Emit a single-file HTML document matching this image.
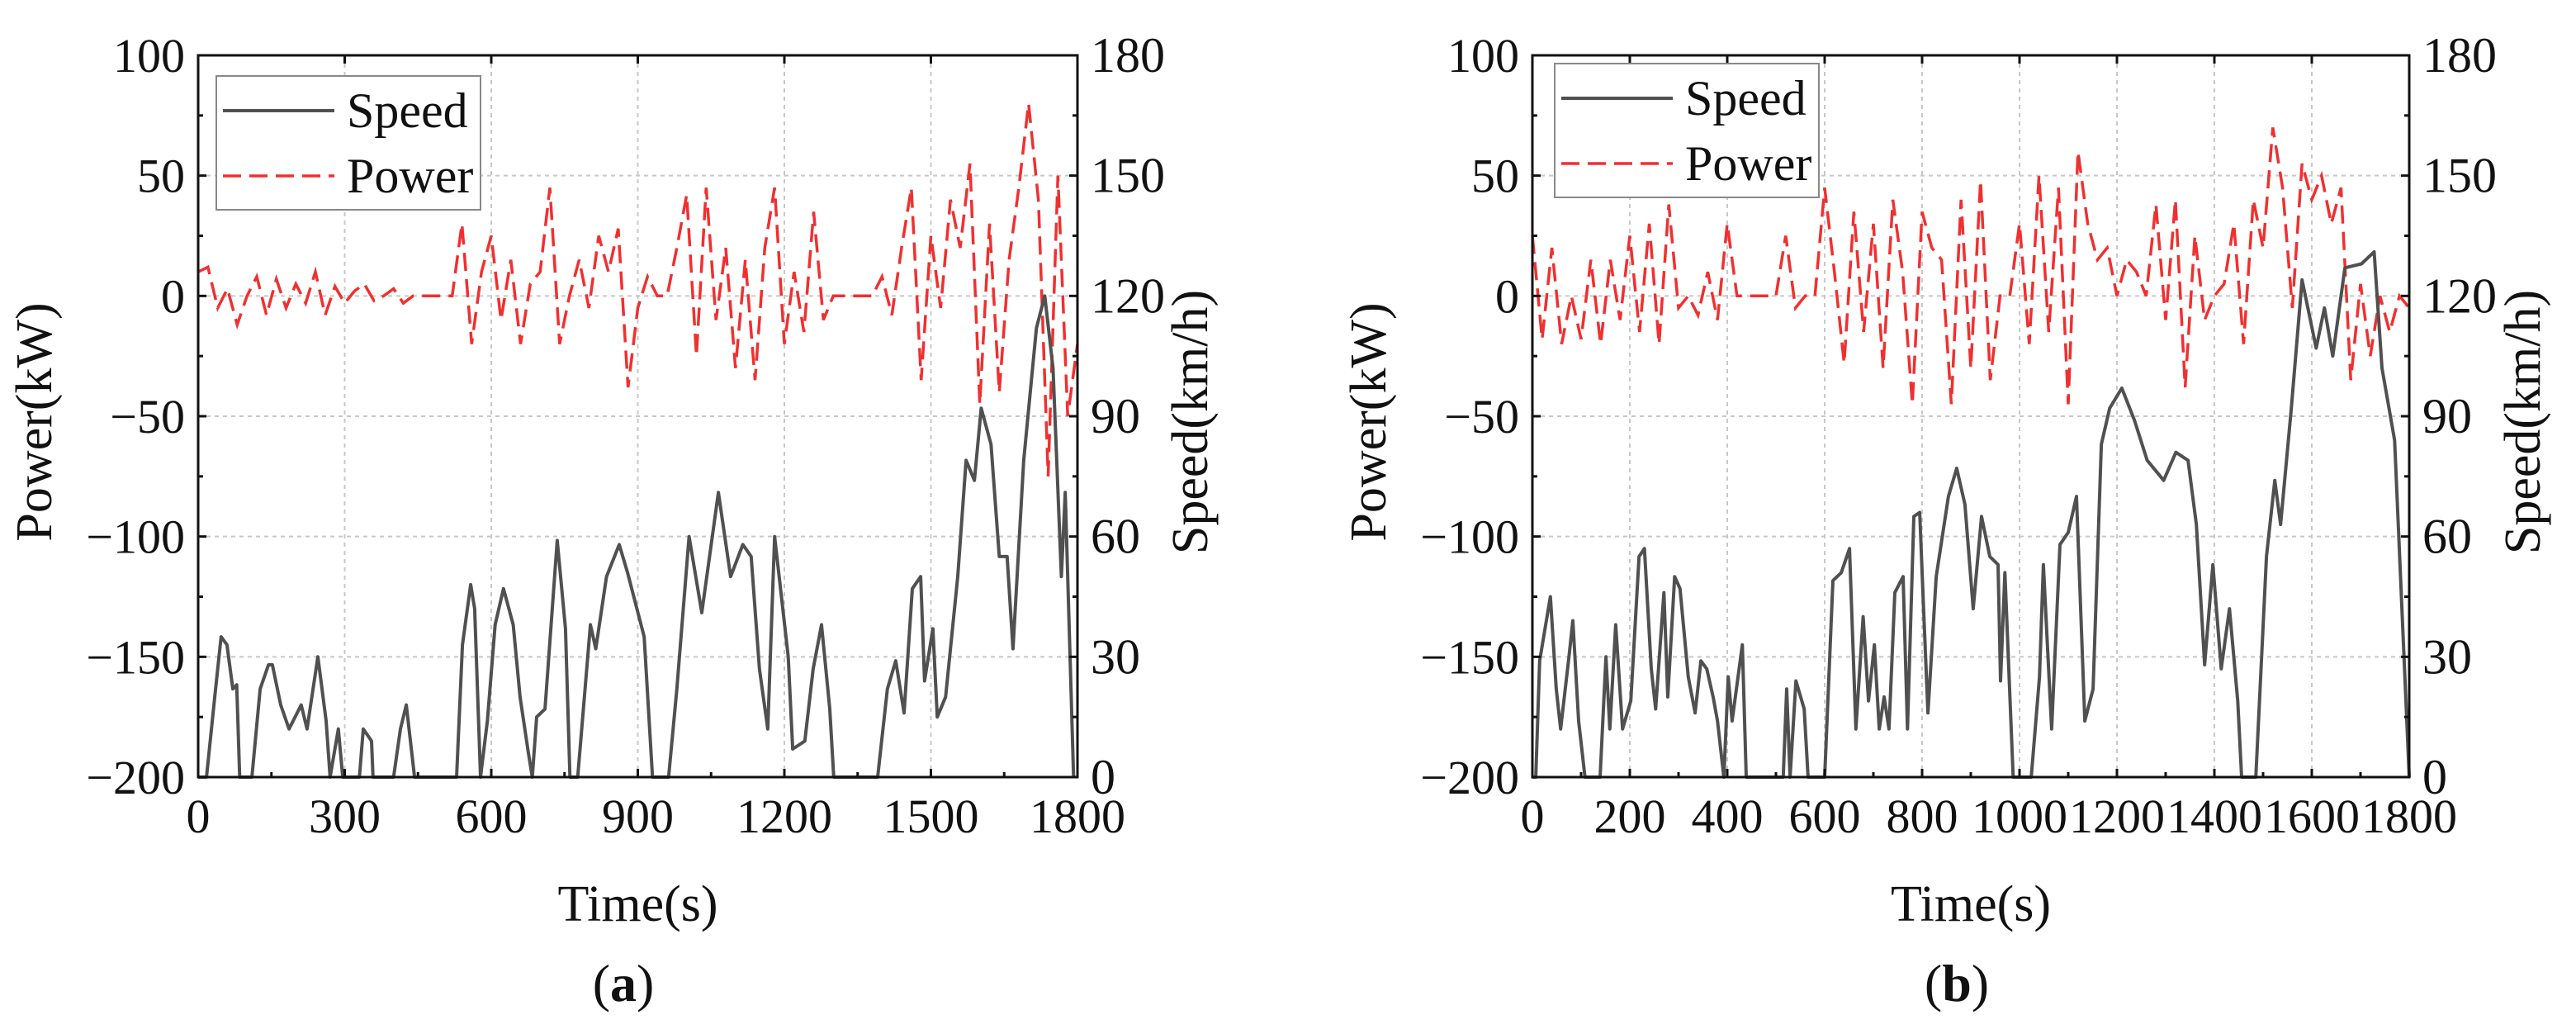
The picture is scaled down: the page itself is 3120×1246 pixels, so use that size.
<!DOCTYPE html>
<html><head><meta charset="utf-8">
<style>
html,body{margin:0;padding:0;background:#fff;}
svg{display:block;}
text{font-family:"Liberation Serif","Times New Roman",serif;fill:#111;}
</style></head>
<body>
<svg id="fig" width="3120" height="1246" viewBox="0 0 3120 1246" font-family="Liberation Serif, serif" xmlns="http://www.w3.org/2000/svg"></svg>
<script>
// ---------- DATA ----------
const xTicksA = [0,300,600,900,1200,1500,1800];
const xTicksB = [0,200,400,600,800,1000,1200,1400,1600,1800];
const powerTicks = [100,50,0,-50,-100,-150,-200];
const speedTicks = [180,150,120,90,60,30,0];

const speedTimeA = [0,17,34,47,59,71,79,85,110,127,144,152,169,186,211,223,245,262,270,287,296,330,338,355,358,400,414,426,443,529,541,558,566,578,592,608,625,645,659,676,684,693,710,735,752,761,777,803,814,836,862,879,913,930,963,980,1005,1031,1065,1090,1115,1132,1149,1166,1180,1208,1217,1242,1259,1276,1293,1301,1391,1411,1428,1445,1462,1479,1487,1504,1513,1530,1555,1572,1589,1603,1623,1640,1656,1668,1690,1716,1733,1750,1767,1775,1792];
const speedA = [0,0,20,35,33,22,23,0,0,22,28,28,18,12,18,12,30,14,0,12,0,0,12,9,0,0,12,18,0,0,33,48,42,0,14,38,47,38,20,6,0,15,17,59,37,0,0,38,32,50,58,51,35,0,0,22,60,41,71,50,58,55,27,12,60,30,7,9,27,38,17,0,0,22,29,16,47,50,24,37,15,20,50,79,74,92,83,55,55,32,79,112,120,102,50,71,0];
const powerA = [10,12,-5,3,-12,0,8,-8,7,-5,5,-3,10,-8,4,-3,2,5,-2,0,3,-3,0,0,0,0,0,30,-20,10,25,-10,15,-20,5,10,45,-20,0,15,-5,25,10,28,-38,-5,8,0,0,20,42,-25,45,-10,20,-30,15,-35,20,45,-20,10,-15,35,-10,0,0,0,0,0,8,-8,20,45,-35,25,-5,40,20,55,-45,30,-40,15,45,80,40,-75,50,-50,-20];

const speedTimeB = [0,7,15,37,49,58,75,83,95,108,139,151,159,171,185,202,219,230,244,253,270,278,292,303,320,334,346,358,371,380,393,402,410,431,439,515,522,529,541,558,566,600,617,634,651,664,679,690,702,712,722,732,744,761,770,783,795,803,812,829,854,871,888,905,922,939,956,961,970,987,1024,1041,1049,1066,1083,1100,1117,1134,1151,1168,1185,1210,1236,1262,1296,1321,1346,1363,1380,1397,1414,1431,1448,1456,1485,1507,1524,1536,1558,1580,1609,1626,1643,1668,1702,1728,1744,1770,1800];
const speedB = [0,0,29,45,22,12,30,39,14,0,0,30,12,38,12,19,55,57,27,17,46,20,50,47,25,16,29,27,20,14,0,25,14,33,0,0,22,0,24,17,0,0,49,51,57,12,40,19,33,12,20,12,46,50,12,65,66,42,16,50,70,77,68,42,65,55,53,24,51,0,0,25,53,12,58,61,70,14,22,83,92,97,89,79,74,81,79,63,28,53,27,42,19,0,0,55,74,63,92,124,107,117,105,127,128,131,102,84,0];
const powerB = [25,-18,20,-20,0,-18,15,-20,15,-10,25,-15,30,-20,38,-5,0,-8,10,-10,30,0,0,0,0,0,25,-5,0,0,45,10,-28,35,-15,30,-30,40,10,-45,35,20,15,-45,40,-30,48,-35,0,0,30,-20,50,-15,45,-45,60,30,15,20,0,15,10,0,38,-10,40,-38,25,-10,0,5,30,-20,40,20,70,45,-5,55,40,50,30,45,-35,5,-25,0,-15,0,-5];
const powerStep = 20;

// ---------- DRAW ----------
const NS = "http://www.w3.org/2000/svg";
const svg = document.getElementById('fig');
function mk(tag, attrs, parent){
  const e = document.createElementNS(NS, tag);
  for (const k in attrs) e.setAttribute(k, attrs[k]);
  (parent||svg).appendChild(e);
  return e;
}

function panel(cfg){
  const g = mk('g', {});
  
  
  const L=cfg.L, R=cfg.R, T=67, B=941;
  const xs = t => L + (t/1800)*(R-L);
  const yp = p => T + (100-p)/300*(B-T);
  const ys = s => T + (180-s)/180*(B-T);

  cfg.xTicks.forEach((t,i) => {
    if (i>0 && i<cfg.xTicks.length-1){
      const gl = mk('line', {x1:xs(t),x2:xs(t),y1:T,y2:B,stroke:'#c8c8c8','stroke-width':2,'stroke-dasharray':'5,5'}, g);
      
      
    }
  });
  powerTicks.forEach((p,i) => {
    if (i>0 && i<powerTicks.length-1){
      const gl = mk('line', {x1:L,x2:R,y1:yp(p),y2:yp(p),stroke:'#c8c8c8','stroke-width':2,'stroke-dasharray':'5,5'}, g);
      
      
    }
  });

  let pd = '';
  cfg.power.forEach((v,i) => { pd += (i?'L':'M') + xs(i*powerStep).toFixed(1) + ',' + yp(v).toFixed(1); });
  const pl = mk('path', {d:pd, fill:'none', stroke:'#f03030','stroke-width':3.5,'stroke-dasharray':'22,10'}, g);
  
  

  let sd = '';
  cfg.speedT.forEach((t,i) => { sd += (i?'L':'M') + xs(t).toFixed(1) + ',' + ys(cfg.speed[i]).toFixed(1); });
  const sl = mk('path', {d:sd, fill:'none', stroke:'#505050','stroke-width':4,'stroke-linejoin':'round'}, g);
  
  

  const fr = mk('rect', {x:L,y:T,width:R-L,height:B-T,fill:'none',stroke:'#111','stroke-width':3}, g);
  
  

  cfg.xTicks.forEach((t,i) => {
    mk('line', {x1:xs(t),x2:xs(t),y1:B,y2:B-10,stroke:'#111','stroke-width':3}, g);
    mk('line', {x1:xs(t),x2:xs(t),y1:T,y2:T+10,stroke:'#111','stroke-width':3}, g);
    if (i < cfg.xTicks.length-1){
      const m = (t + cfg.xTicks[i+1])/2;
      mk('line', {x1:xs(m),x2:xs(m),y1:B,y2:B-6,stroke:'#111','stroke-width':3}, g);
    }
    const tx = mk('text', {x:xs(t), y:1008, 'font-size':58, 'text-anchor':'middle','font-family':'Liberation Serif, serif'}, g);
    tx.textContent = t;
    
    
  });
  powerTicks.forEach((p,i) => {
    mk('line', {x1:L,x2:L+10,y1:yp(p),y2:yp(p),stroke:'#111','stroke-width':3}, g);
    mk('line', {x1:R,x2:R-10,y1:yp(p),y2:yp(p),stroke:'#111','stroke-width':3}, g);
    if (i < powerTicks.length-1){
      const m = p - 25;
      mk('line', {x1:L,x2:L+6,y1:yp(m),y2:yp(m),stroke:'#111','stroke-width':3}, g);
      mk('line', {x1:R,x2:R-6,y1:yp(m),y2:yp(m),stroke:'#111','stroke-width':3}, g);
    }
    const tx = mk('text', {x:L-16, y:yp(p)+20, 'font-size':58, 'text-anchor':'end','font-family':'Liberation Serif, serif'}, g);
    tx.textContent = p < 0 ? '\u2212' + Math.abs(p) : p;
    
    
  });
  speedTicks.forEach(s => {
    const tx = mk('text', {x:R+16, y:ys(s)+20, 'font-size':60, 'text-anchor':'start','font-family':'Liberation Serif, serif'}, g);
    tx.textContent = s;
    
    
  });

  const yt = mk('text', {x:0,y:0,'font-size':62,'text-anchor':'middle','font-family':'Liberation Serif, serif',transform:`translate(${cfg.ltx},511) rotate(-90)`}, g);
  yt.textContent = 'Power(kW)';
  
  
  const yt2 = mk('text', {x:0,y:0,'font-size':62,'text-anchor':'middle','font-family':'Liberation Serif, serif',transform:`translate(${cfg.rtx},511) rotate(-90)`}, g);
  yt2.textContent = 'Speed(km/h)';
  
  
  const xt = mk('text', {x:(L+R)/2, y:1115, 'font-size':62, 'text-anchor':'middle','font-family':'Liberation Serif, serif'}, g);
  xt.textContent = 'Time(s)';
  
  
  const cap = mk('text', {x:cfg.capX, y:1212, 'font-size':64, 'text-anchor':'middle','font-family':'Liberation Serif, serif'}, g);
  cap.innerHTML = '(<tspan font-weight="bold">' + cfg.cap + '</tspan>)';
  
  

  const lg = mk('g', {}, g);
  
  
  const lx = cfg.lgX, ly = cfg.lgY;
  mk('rect', {x:lx, y:ly, width:320, height:162, fill:'#fff', stroke:'#888', 'stroke-width':2}, lg);
  mk('line', {x1:lx+8,x2:lx+143,y1:ly+42,y2:ly+42,stroke:'#505050','stroke-width':4}, lg);
  const t1 = mk('text', {x:lx+158, y:ly+62, 'font-size':60,'font-family':'Liberation Serif, serif'}, lg);
  t1.textContent = 'Speed';
  
  
  mk('line', {x1:lx+8,x2:lx+143,y1:ly+121,y2:ly+121,stroke:'#f03030','stroke-width':3.5,'stroke-dasharray':'22,10'}, lg);
  const t2 = mk('text', {x:lx+158, y:ly+141, 'font-size':60,'font-family':'Liberation Serif, serif'}, lg);
  t2.textContent = 'Power';
  
  
}

panel({name:'panel-a', L:240, R:1305, xTicks:xTicksA, power:powerA, speedT:speedTimeA, speed:speedA, ltx:62, rtx:1462, capX:755, cap:'a', lgX:262, lgY:92});
panel({name:'panel-b', L:1856, R:2918, xTicks:xTicksB, power:powerB, speedT:speedTimeB, speed:speedB, ltx:1678, rtx:3076, capX:2370, cap:'b', lgX:1883, lgY:77});
</script>
</body></html>
